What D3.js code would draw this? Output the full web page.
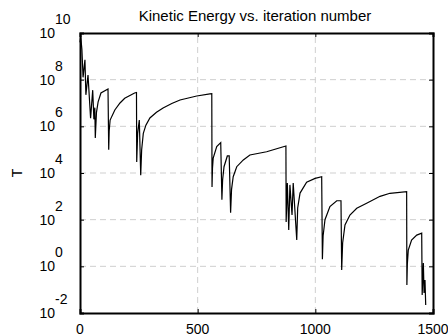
<!DOCTYPE html>
<html>
<head>
<meta charset="utf-8">
<script src="https://cdn.jsdelivr.net/npm/d3@7"></script>
<style>
  body { margin: 0; background: #fff; }
  text { font-family: "Liberation Sans", Arial, sans-serif; fill: #000; }
</style>
</head>
<body>
<div id="chart"></div>
<script>
// Kinetic energy vs iteration (log scale)
const width = 448, height = 336
const margin = {top: 33, right: 15, bottom: 23, left: 80}

// data (iteration, log10 of T)
const iterations = [0, 3, 8, 13, 21, 25, 34, 45, 54, 59, 63, 65, 70, 77, 89, 119, 122,
  124, 128, 148, 170, 190, 232, 240, 241, 245, 252, 258, 262, 269, 280, 297, 325, 353, 390, 425, 496, 552, 560,
  561, 563, 566, 581, 598, 603, 606, 612, 626, 634, 640, 644, 651, 666, 694, 722, 793, 875,
  876, 881, 887, 892, 901, 906, 921, 925, 935, 963, 999, 1027, 1030, 1033, 1041, 1062, 1091, 1109,
  1112, 1116, 1126, 1147, 1176, 1218, 1275, 1317, 1388, 1389, 1391, 1395, 1409, 1431, 1452,
  1454, 1459, 1462, 1466, 1469]
const logT = [9.6, 9.85, 9.3, 8.1, 8.85, 7.35, 8.2, 6.35, 7.55, 6.3, 6.8, 5.5, 6.6, 7.05, 7.43, 7.6, 5.0,
  5.8, 6.27, 6.7, 7.0, 7.2, 7.43, 7.45, 4.47, 5.7, 6.27, 3.9, 5.0, 5.7, 6.05, 6.36, 6.6, 6.79, 6.98, 7.13, 7.3, 7.39, 7.4,
  3.4, 4.2, 4.64, 5.13, 5.3, 2.85, 3.7, 4.27, 4.73, 4.73, 2.3, 3.3, 3.84, 4.27, 4.56, 4.77, 4.91, 5.16,
  1.9, 3.57, 1.56, 3.49, 2.2, 3.57, 1.13, 2.5, 3.14, 3.61, 3.77, 3.84, 0.3, 1.3, 2.0, 2.56, 2.81, 2.81,
  -0.16, 1.0, 1.77, 2.2, 2.49, 2.7, 3.0, 3.13, 3.2, -0.8, 0.1, 0.7, 1.13, 1.34, 1.42,
  -1.23, 0.14, -1.14, -0.59, -1.66]

const xTicks = [0, 500, 1000, 1500]
const yExponents = [-2, 0, 2, 4, 6, 8, 10]
const titleText = "Kinetic Energy vs. iteration number"

const data = iterations.map((d, i) => ({it: d, T: Math.pow(10, logT[i])}))

const svg = d3.select("#chart")
  .append("svg")
    .attr("width", width)
    .attr("height", height)

const x = d3.scaleLinear()
  .domain([0, 1500])
  .range([margin.left, width - margin.right])
const y = d3.scaleLog()
  .domain([1e-2, 1e10])
  .range([height - margin.bottom, margin.top])

const x0 = margin.left, x1 = width - margin.right
const y0 = height - margin.bottom, y1 = margin.top

// grid
svg.append("g")
  .selectAll("line")
  .data(xTicks.slice(1, -1))
  .join("line")
    .attr("x1", d => x(d)).attr("x2", d => x(d))
    .attr("y1", y0).attr("y2", y1)
    .attr("stroke", "#cfcfcf")
    .attr("stroke-dasharray", "6,4")
svg.append("g")
  .selectAll("line")
  .data(yExponents.slice(1, -1))
  .join("line")
    .attr("x1", x0).attr("x2", x1)
    .attr("y1", d => y(Math.pow(10, d))).attr("y2", d => y(Math.pow(10, d)))
    .attr("stroke", "#cfcfcf")
    .attr("stroke-dasharray", "6,4")

// axes (ticks pointing inward)
svg.append("g")
  .attr("transform", `translate(0,${y0})`)
  .call(d3.axisBottom(x).tickValues(xTicks).tickSize(-4).tickFormat(""))
svg.append("g")
  .attr("transform", `translate(0,${y1})`)
  .call(d3.axisTop(x).tickValues(xTicks).tickSize(-4).tickFormat(""))
svg.append("g")
  .attr("transform", `translate(${x0},0)`)
  .call(d3.axisLeft(y).tickValues(yExponents.map(e => Math.pow(10, e))).tickSize(-4).tickFormat(""))
svg.append("g")
  .attr("transform", `translate(${x1},0)`)
  .call(d3.axisRight(y).tickValues(yExponents.map(e => Math.pow(10, e))).tickSize(-4).tickFormat(""))
svg.selectAll(".domain").attr("stroke", "#000").attr("stroke-width", 2)
svg.selectAll(".tick line").attr("stroke", "#000")

// x tick labels
svg.append("g")
  .selectAll("text")
  .data(xTicks)
  .join("text")
    .attr("x", d => x(d))
    .attr("y", 334)
    .attr("text-anchor", "middle")
    .style("font-size", "14px")
    .text(d => d)

// y tick labels: 10 with exponent
const yl = svg.append("g")
  .selectAll("g")
  .data(yExponents)
  .join("g")
yl.append("text")
  .attr("x", 55)
  .attr("y", d => y(Math.pow(10, d)) + 5)
  .attr("text-anchor", "end")
  .style("font-size", "14px")
  .text("10")
yl.append("text")
  .attr("x", 55)
  .attr("y", d => y(Math.pow(10, d)) - 9)
  .style("font-size", "14px")
  .text(d => d)

// curve
const line = d3.line()
  .x(d => x(d.it))
  .y(d => y(d.T))
svg.append("path")
  .datum(data)
  .attr("fill", "none")
  .attr("stroke", "#000")
  .attr("stroke-width", 1.2)
  .attr("d", line)

// title and label
svg.append("text")
  .attr("x", 255)
  .attr("y", 21)
  .attr("text-anchor", "middle")
  .style("font-size", "15px")
  .text(titleText)
svg.append("text")
  .attr("transform", "translate(22,173)rotate(-90)")
  .attr("text-anchor", "middle")
  .style("font-size", "14px")
  .text("T")
</script>
</body>
</html>
